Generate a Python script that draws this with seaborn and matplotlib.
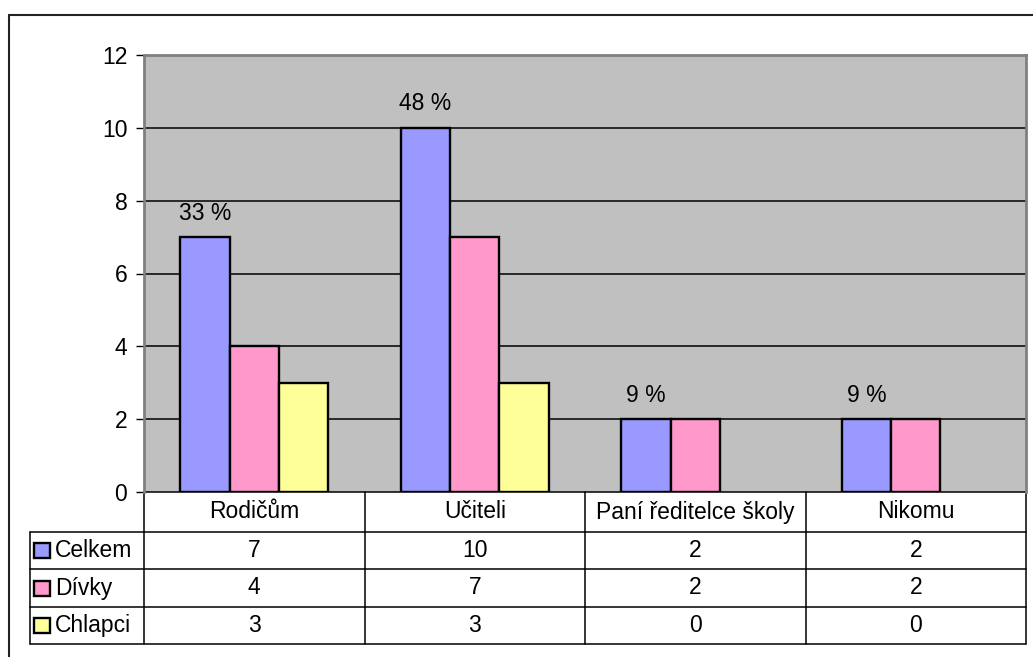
import numpy as np
import pandas as pd
import matplotlib
matplotlib.use('Agg')
import matplotlib.pyplot as plt
import seaborn as sns
from matplotlib.patches import Rectangle
from matplotlib.lines import Line2D

# data
categories = ['Rodičům', 'Učiteli', 'Paní ředitelce školy', 'Nikomu']
series_names = ['Celkem', 'Dívky', 'Chlapci']
celkem = [7, 10, 2, 2]
divky = [4, 7, 2, 2]
chlapci = [3, 3, 0, 0]
pct_labels = ['33 %', '48 %', '9 %', '9 %']
colors = ['#9999FF', '#FF99CC', '#FFFF99']

# long-form table for seaborn
df = pd.DataFrame({
    'kategorie': categories * 3,
    'skupina': [s for s in series_names for _ in categories],
    'pocet': celkem + divky + chlapci,
})

sns.set_style('white')
plt.rcParams['font.family'] = ['Liberation Sans', 'DejaVu Sans']
plt.rcParams['text.color'] = 'black'
plt.rcParams['ytick.labelcolor'] = 'black'
FS = 16.5

W, H = 1033, 657
fig = plt.figure(figsize=(W / 100, H / 100), dpi=100)
x0, x1, y_top, y_bot = 144, 1026, 55, 492
ax = fig.add_axes([x0 / W, 1 - y_bot / H, (x1 - x0) / W, (y_bot - y_top) / H])
ax.set_facecolor('#C0C0C0')

sns.barplot(ax=ax, data=df, x='kategorie', y='pocet', hue='skupina',
            order=categories, hue_order=series_names, palette=colors,
            saturation=1, width=0.67, edgecolor='black', linewidth=1.7,
            legend=False, errorbar=None, zorder=3)

# empty bars (value 0) should not leave an outline on the axis
for cont in ax.containers:
    for bar in cont:
        if bar.get_height() == 0:
            bar.set_linewidth(0)

ax.bar_label(ax.containers[0], labels=pct_labels, padding=9, fontsize=FS,
             color='black')

ax.set_ylim(0, 12)
ax.set_xlim(-0.5, len(categories) - 0.5)
ax.set_yticks(range(0, 13, 2))
for v in range(2, 12, 2):
    ax.axhline(v, color='black', lw=1.1, zorder=1)
ax.set_xticks([])
ax.set_xlabel('')
ax.set_ylabel('')
ax.tick_params(axis='y', left=True, length=6, width=1, color='black',
               pad=6, labelsize=FS, labelcolor='black')
for s in ['left', 'top', 'right']:
    ax.spines[s].set_color('#808080')
    ax.spines[s].set_linewidth(2)
ax.spines['bottom'].set_visible(False)

# data table below the plot
def ax_x(px):
    return (px - x0) / (x1 - x0)

def ax_y(py):
    return (y_bot - py) / (y_bot - y_top)

row_edges = [492, 532, 569, 607, 644]
label_left = 30
table_kw = dict(transform=ax.transAxes, clip_on=False, color='black', lw=1.1)
# horizontal lines
ax.add_line(Line2D([ax_x(x0), 1], [ax_y(row_edges[0])] * 2, **table_kw))
for py in row_edges[1:]:
    ax.add_line(Line2D([ax_x(label_left), 1], [ax_y(py)] * 2, **table_kw))
# vertical lines
ax.add_line(Line2D([ax_x(label_left)] * 2, [ax_y(row_edges[1]), ax_y(row_edges[-1])], **table_kw))
for i in range(len(categories) + 1):
    xa = i / len(categories)
    ax.add_line(Line2D([xa, xa], [ax_y(row_edges[0]), ax_y(row_edges[-1])], **table_kw))

values = [celkem, divky, chlapci]
for i, cat in enumerate(categories):
    xc = (i + 0.5) / len(categories)
    ym = ax_y((row_edges[0] + row_edges[1]) / 2)
    ax.text(xc, ym, cat, transform=ax.transAxes, ha='center', va='center', fontsize=FS)
    for r, vals in enumerate(values):
        ym = ax_y((row_edges[r + 1] + row_edges[r + 2]) / 2)
        ax.text(xc, ym, str(vals[i]), transform=ax.transAxes, ha='center',
                va='center', fontsize=FS)

for r, name in enumerate(series_names):
    pc = (row_edges[r + 1] + row_edges[r + 2]) / 2
    ax.add_patch(Rectangle((ax_x(34), ax_y(pc + 7.5)), ax_x(50) - ax_x(34),
                           ax_y(pc - 7.5) - ax_y(pc + 7.5), transform=ax.transAxes,
                           facecolor=colors[r], edgecolor='black', lw=1.7, clip_on=False))
    ax.text(ax_x(55), ax_y(pc), name, transform=ax.transAxes, ha='left',
            va='center', fontsize=FS)

# outer chart frame
fig.add_artist(Line2D([9 / W, 1], [1 - 15 / H] * 2, transform=fig.transFigure,
                      color='#222222', lw=1.5))
fig.add_artist(Line2D([9 / W] * 2, [0, 1 - 15 / H], transform=fig.transFigure,
                      color='#222222', lw=1.5))

plt.savefig('out.png', dpi=100)
